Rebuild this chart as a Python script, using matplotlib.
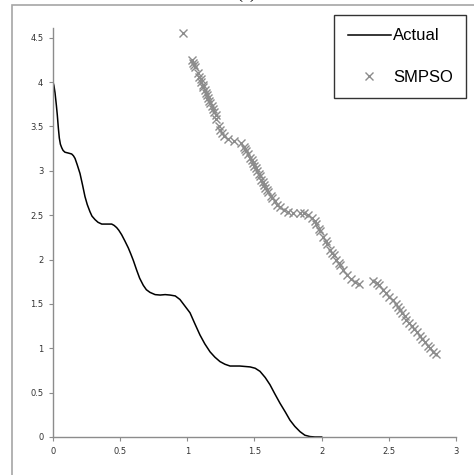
import matplotlib
matplotlib.use("Agg")
import matplotlib.pyplot as plt
from matplotlib.patches import Rectangle

# Actual front
actual_x = [0.0, 0.007, 0.015, 0.025, 0.032, 0.04, 0.047, 0.055, 0.065, 0.075,
            0.089, 0.115, 0.139, 0.152, 0.164, 0.18, 0.201, 0.22, 0.238, 0.255,
            0.275, 0.29, 0.313, 0.335, 0.363, 0.40, 0.437, 0.455, 0.474, 0.49,
            0.511, 0.535, 0.561, 0.58, 0.598, 0.623, 0.645, 0.672, 0.695, 0.722,
            0.76, 0.797, 0.835, 0.871, 0.91, 0.945, 0.98, 1.02, 1.055, 1.094,
            1.13, 1.169, 1.205, 1.243, 1.28, 1.318, 1.39, 1.467, 1.505, 1.541,
            1.58, 1.615, 1.65, 1.69, 1.73, 1.764, 1.80, 1.839, 1.875, 1.913,
            1.95, 2.0]
actual_y = [4.0, 3.96, 3.88, 3.74, 3.63, 3.48, 3.37, 3.30, 3.26, 3.23,
            3.21, 3.20, 3.19, 3.17, 3.14, 3.07, 2.97, 2.84, 2.71, 2.62,
            2.54, 2.49, 2.45, 2.42, 2.40, 2.40, 2.40, 2.385, 2.36, 2.33,
            2.28, 2.21, 2.13, 2.06, 1.99, 1.88, 1.79, 1.71, 1.66, 1.63,
            1.605, 1.60, 1.605, 1.60, 1.59, 1.55, 1.48, 1.40, 1.28, 1.15,
            1.05, 0.96, 0.90, 0.85, 0.82, 0.80, 0.80, 0.79, 0.775, 0.74,
            0.67, 0.59, 0.49, 0.38, 0.28, 0.19, 0.12, 0.06, 0.02, 0.005,
            0.0, 0.0]

# SMPSO solutions
smpso_x = [0.97, 1.035, 1.045, 1.05, 1.06,
           1.08, 1.09, 1.10, 1.105, 1.115, 1.12, 1.13, 1.14, 1.15, 1.155,
           1.165, 1.17, 1.18, 1.19, 1.20, 1.21, 1.215, 1.235, 1.245, 1.255,
           1.27, 1.30, 1.35,
           1.40, 1.42, 1.43, 1.44, 1.455, 1.47, 1.48, 1.49, 1.50, 1.51,
           1.52, 1.53, 1.54, 1.55, 1.56, 1.57, 1.58, 1.59, 1.60, 1.62,
           1.63, 1.65, 1.67, 1.69, 1.72,
           1.75, 1.79, 1.84, 1.87, 1.90, 1.93, 1.95, 1.96, 1.98, 1.99,
           2.01, 2.03, 2.04, 2.06, 2.08, 2.09, 2.11, 2.13, 2.14, 2.16,
           2.19, 2.22, 2.25, 2.28,
           2.385, 2.41, 2.43, 2.46, 2.48, 2.50, 2.53, 2.55, 2.57, 2.58,
           2.60, 2.62, 2.63, 2.65, 2.67, 2.69, 2.71, 2.73, 2.75, 2.77,
           2.79, 2.81, 2.83, 2.85]
smpso_y = [4.55, 4.25, 4.21, 4.19, 4.17,
           4.10, 4.06, 4.03, 4.00, 3.97, 3.94, 3.91, 3.88, 3.85, 3.82,
           3.79, 3.76, 3.73, 3.70, 3.66, 3.63, 3.58, 3.50, 3.46, 3.43,
           3.39, 3.36, 3.34,
           3.31, 3.27, 3.25, 3.22, 3.19, 3.15, 3.12, 3.09, 3.06, 3.03,
           3.00, 2.97, 2.94, 2.90, 2.87, 2.84, 2.81, 2.78, 2.76, 2.72,
           2.69, 2.66, 2.62, 2.59, 2.56,
           2.54, 2.53, 2.53, 2.52, 2.50, 2.47, 2.43, 2.40, 2.35, 2.32,
           2.25, 2.21, 2.17, 2.11, 2.07, 2.05, 2.00, 1.96, 1.94, 1.88,
           1.83, 1.78, 1.75, 1.73,
           1.76, 1.74, 1.71, 1.66, 1.62, 1.58, 1.54, 1.50, 1.46, 1.43,
           1.40, 1.36, 1.32, 1.29, 1.25, 1.22, 1.18, 1.14, 1.10, 1.07,
           1.03, 1.00, 0.96, 0.93]

x_ticks = [0, 0.5, 1, 1.5, 2, 2.5, 3]
x_labels = ["0", "0.5", "1", "1.5", "2", "2.5", "3"]
y_ticks = [0, 0.5, 1, 1.5, 2, 2.5, 3, 3.5, 4, 4.5]
y_labels = ["0", "0.5", "1", "1.5", "2", "2.5", "3", "3.5", "4", "4.5"]

W, H = 474, 475
fig = plt.figure(figsize=(W / 100, H / 100), dpi=100)

# outer chart border (only left/top visible)
fig.patches.append(Rectangle((12 / W, -0.1), 1.2, 1 - 5 / H + 0.1,
                             transform=fig.transFigure, fill=False,
                             edgecolor="#a6a6a6", linewidth=1.2))
fig.text(246 / W, 1 + 2 / H, "(a)", ha="center", va="baseline",
         fontsize=13, family="Liberation Serif")

ax = fig.add_axes([53 / W, 38 / H, 403 / W, 409 / H])
ax.plot(actual_x, actual_y, color="black", linewidth=1.1, label="Actual",
        solid_joinstyle="round")
ax.plot(smpso_x, smpso_y, linestyle="none", marker="x", color="#8c8c8c",
        markersize=6, markeredgewidth=1.0, label="SMPSO")

ax.set_xlim(0, 3)
ax.set_ylim(0, 4.61)
ax.set_xticks(x_ticks)
ax.set_xticklabels(x_labels)
ax.set_yticks(y_ticks)
ax.set_yticklabels(y_labels)
for s in ["top", "right"]:
    ax.spines[s].set_visible(False)
for s in ["left", "bottom"]:
    ax.spines[s].set_color("#8c8c8c")
    ax.spines[s].set_linewidth(1.0)
ax.tick_params(length=3, width=0.8, color="#8c8c8c", labelsize=6,
               labelcolor="#333333", pad=4, direction="out")

leg = ax.legend(loc="upper right", bbox_to_anchor=(466 / W, 1 - 15 / H),
                bbox_transform=fig.transFigure, frameon=True, fancybox=False,
                prop={"family": "Liberation Sans", "size": 12},
                handlelength=2.6, handletextpad=0.1, labelspacing=1.6,
                borderpad=0.8, borderaxespad=0)
leg.get_frame().set_edgecolor("black")
leg.get_frame().set_linewidth(1.0)

fig.savefig("out.png", dpi=100)
